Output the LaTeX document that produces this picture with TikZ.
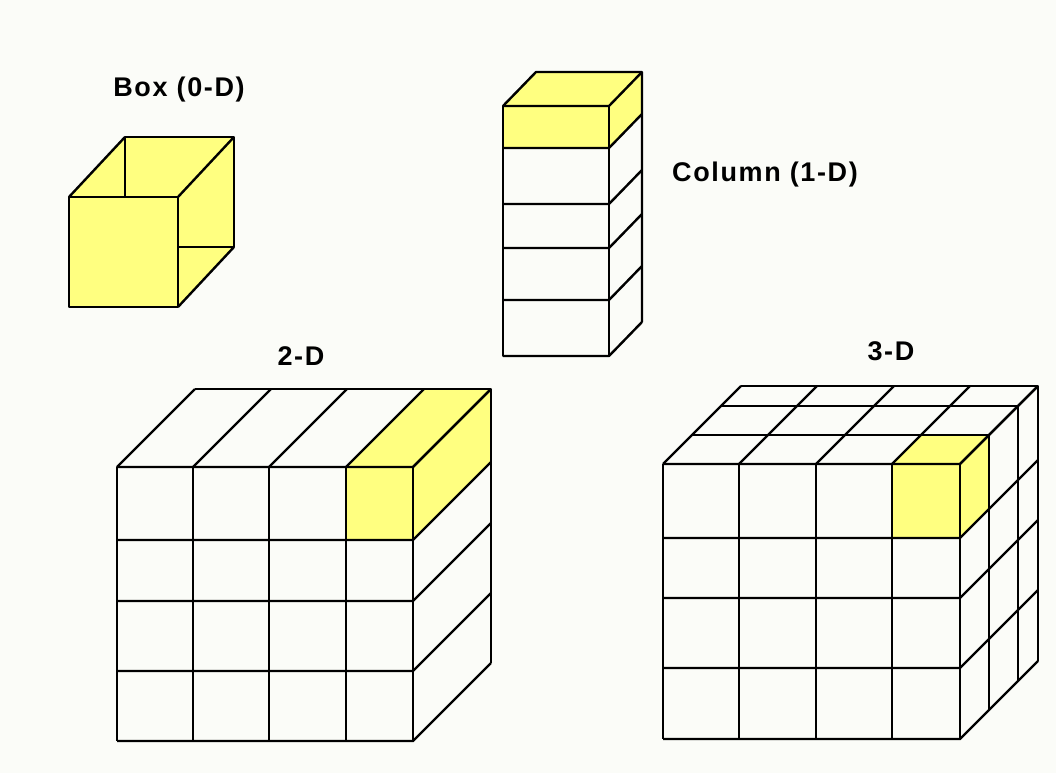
\documentclass[tikz,border=0pt]{standalone}
\usepackage{fontspec}
\setmainfont{Liberation Sans}[LetterSpace=6]
\definecolor{paleyellow}{RGB}{255,255,128}
\definecolor{paper}{RGB}{251,252,248}
\begin{document}
\begin{tikzpicture}[x=1pt, y=-1pt, line width=2.4pt, line join=round,
  every node/.style={inner sep=0pt, anchor=base, font=\fontsize{27}{32}\selectfont\bfseries},
  lit/.style={fill=paleyellow, draw=none}]
  \fill[paper] (0,0) rectangle (1056,773);
  \useasboundingbox (0,0) rectangle (1056,773);
  % labels
  \node (box) at (179,96) {Box (0-D)};
  \node (column) at (765,181) {Column (1-D)};
  \node (twoD) at (301,365) {2-D};
  \node (threeD) at (891,360) {3-D};
  % box
  \fill[lit] (69,197) -- (125,137) -- (234,137) -- (234,247) -- (178,307) -- (69,307) -- cycle;
  \draw (69,197) rectangle (178,307);
  \draw (125,197) -- (125,137) -- (234,137) -- (234,247) -- (178,247);
  \draw (69,197) -- (125,137) (178,197) -- (234,137) (178,307) -- (234,247);
  % column
  \fill[lit] (503,106) rectangle (609,148);
  \fill[lit] (503,106) -- (536,72) -- (642,72) -- (642,114) -- (609,148) -- (609,106) -- cycle;
  \draw (503,106) rectangle (609,356);
  \draw (503,106) -- (536,72) -- (642,72) -- (642,322);
  \foreach \y in {106,148,204,248,300,356} {
    \draw (503,\y) -- (609,\y) -- ++(33,-34);
  }
  % 2-D
  \fill[lit] (346,467) rectangle (413,540);
  \fill[lit] (346,467) -- (424,389) -- (491,389) -- (491,462) -- (413,540) -- (413,467) -- cycle;
  \foreach \x in {117,193,269,346,413} {
    \draw (\x,467) -- (\x,741);
    \draw (\x,467) -- ++(78,-78);
  }
  \foreach \y in {467,540,601,671,741} {
    \draw (117,\y) -- (413,\y) -- ++(78,-78);
  }
  \draw (195,389) -- (491,389) -- (491,663);
  % 3-D
  \fill[lit] (892,464) rectangle (960,538);
  \fill[lit] (892,464) -- (921,435) -- (989,435) -- (989,509) -- (960,538) -- (960,464) -- cycle;
  \foreach \x in {663,739,816,892,960} {
    \draw (\x,464) -- (\x,739);
    \draw (\x,464) -- ++(78,-78);
  }
  \foreach \y in {464,538,598,668,739} {
    \draw (663,\y) -- (960,\y) -- ++(78,-78);
  }
  \foreach \d in {29,58,78} {
    \draw (663+\d,464-\d) -- (960+\d,464-\d) -- (960+\d,739-\d);
  }
\end{tikzpicture}
\end{document}
